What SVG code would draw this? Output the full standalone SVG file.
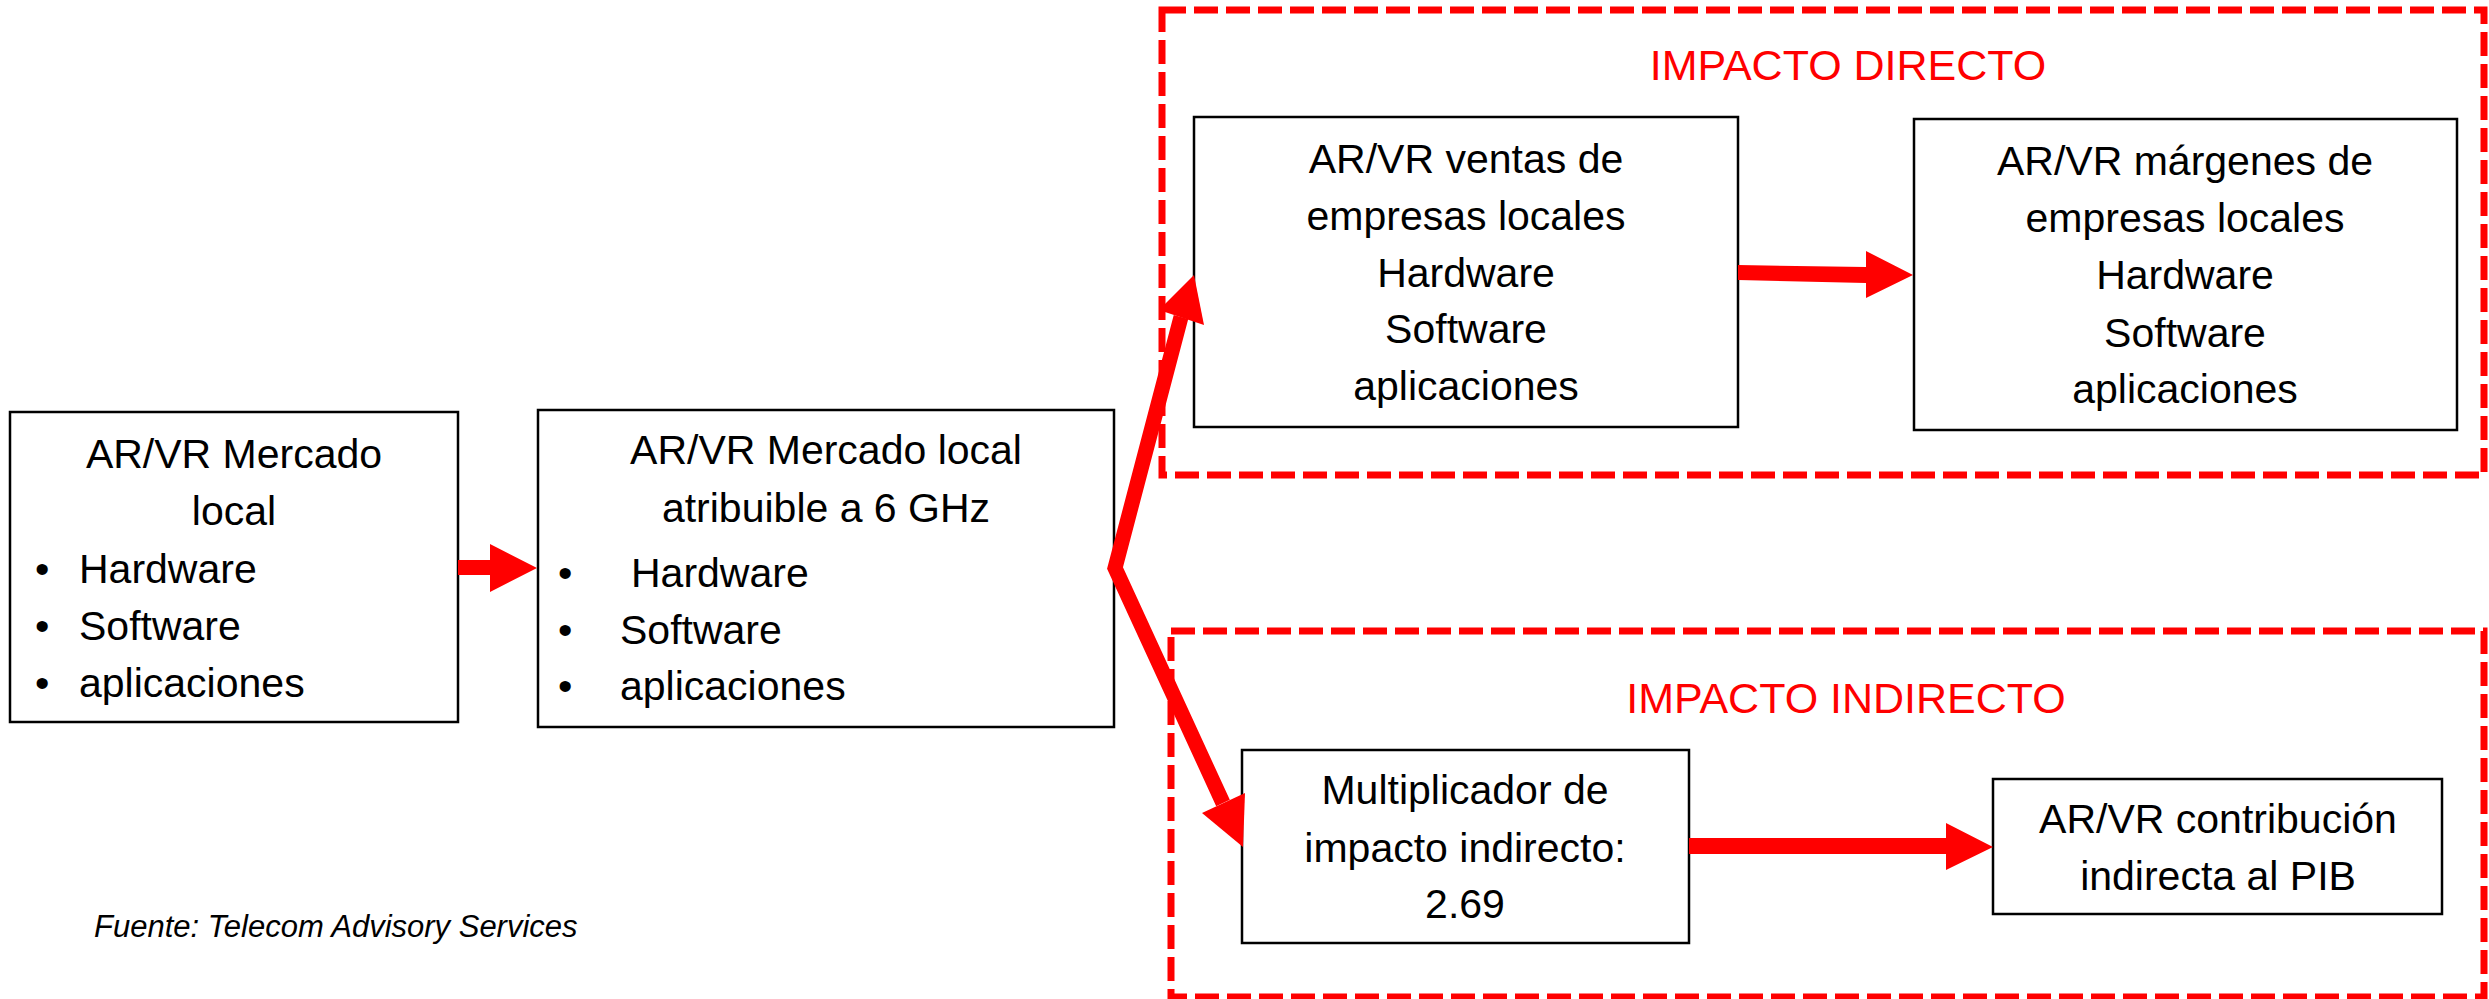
<svg xmlns="http://www.w3.org/2000/svg" width="2489" height="999" viewBox="0 0 2489 999">
<style>
  .box { fill: #ffffff; stroke: #000000; stroke-width: 2.5; }
  .zone { fill: none; stroke: #ff0000; stroke-width: 7; stroke-dasharray: 24 8; }
  .t { font-family: "Liberation Sans", Arial, sans-serif; font-size: 41px; fill: #000000; }
  .c { text-anchor: middle; }
  .zt { font-family: "Liberation Sans", Arial, sans-serif; font-size: 43px; fill: #ff0000; text-anchor: middle; }
  .src { font-family: "Liberation Sans", Arial, sans-serif; font-size: 31px; font-style: italic; fill: #000000; }
  .arrow { fill: #ff0000; }
  .shaft { fill: none; stroke: #ff0000; stroke-width: 15; stroke-linejoin: miter; }
</style>

<g id="zone-direct">
  <rect class="zone" x="1162" y="10" width="1322" height="465"/>
  <text class="zt" x="1848" y="80">IMPACTO DIRECTO</text>
</g>
<g id="zone-indirect">
  <rect class="zone" x="1171" y="631" width="1313" height="366"/>
  <text class="zt" x="1846" y="713">IMPACTO INDIRECTO</text>
</g>

<g id="node-mercado-local">
  <rect class="box" x="10" y="412" width="448" height="310"/>
  <text class="t c" x="234" y="468">AR/VR Mercado</text>
  <text class="t c" x="234" y="525">local</text>
  <text class="t" x="35" y="583">•</text>
  <text class="t" x="79" y="583">Hardware</text>
  <text class="t" x="35" y="640">•</text>
  <text class="t" x="79" y="640">Software</text>
  <text class="t" x="35" y="697">•</text>
  <text class="t" x="79" y="697">aplicaciones</text>
</g>

<g id="node-mercado-6ghz">
  <rect class="box" x="538" y="410" width="576" height="317"/>
  <text class="t c" x="826" y="464">AR/VR Mercado local</text>
  <text class="t c" x="826" y="522">atribuible a 6 GHz</text>
  <text class="t" x="558" y="587">•</text>
  <text class="t" x="631" y="587">Hardware</text>
  <text class="t" x="558" y="644">•</text>
  <text class="t" x="620" y="644">Software</text>
  <text class="t" x="558" y="700">•</text>
  <text class="t" x="620" y="700">aplicaciones</text>
</g>

<g id="node-ventas">
  <rect class="box" x="1194" y="117" width="544" height="310"/>
  <text class="t c" x="1466" y="173">AR/VR ventas de</text>
  <text class="t c" x="1466" y="230">empresas locales</text>
  <text class="t c" x="1466" y="287">Hardware</text>
  <text class="t c" x="1466" y="343">Software</text>
  <text class="t c" x="1466" y="400">aplicaciones</text>
</g>

<g id="node-margenes">
  <rect class="box" x="1914" y="119" width="543" height="311"/>
  <text class="t c" x="2185" y="175">AR/VR márgenes de</text>
  <text class="t c" x="2185" y="232">empresas locales</text>
  <text class="t c" x="2185" y="289">Hardware</text>
  <text class="t c" x="2185" y="347">Software</text>
  <text class="t c" x="2185" y="403">aplicaciones</text>
</g>

<g id="node-multiplicador">
  <rect class="box" x="1242" y="750" width="447" height="193"/>
  <text class="t c" x="1465" y="804">Multiplicador de</text>
  <text class="t c" x="1465" y="862">impacto indirecto:</text>
  <text class="t c" x="1465" y="918">2.69</text>
</g>

<g id="node-pib">
  <rect class="box" x="1993" y="779" width="449" height="135"/>
  <text class="t c" x="2218" y="833">AR/VR contribución</text>
  <text class="t c" x="2218" y="890">indirecta al PIB</text>
</g>

<g id="connectors">
  <polygon class="arrow" points="458,560 490,560 490,544 537,568 490,592 490,575 458,575"/>
  <polygon class="arrow" points="1738,265 1866,267 1866,251 1913,275 1866,298 1866,283 1738,280"/>
  <polygon class="arrow" points="1689,838 1946,838 1946,823 1993,847 1946,870 1946,854 1689,854"/>
  <path class="shaft" d="M1181,317 L1115,568 L1223,803"/>
  <polygon class="arrow" points="1194,275 1159,310 1204,325"/>
  <polygon class="arrow" points="1243,847 1202,813 1245,793"/>
</g>

<text class="src" x="94" y="937">Fuente: Telecom Advisory Services</text>
</svg>
